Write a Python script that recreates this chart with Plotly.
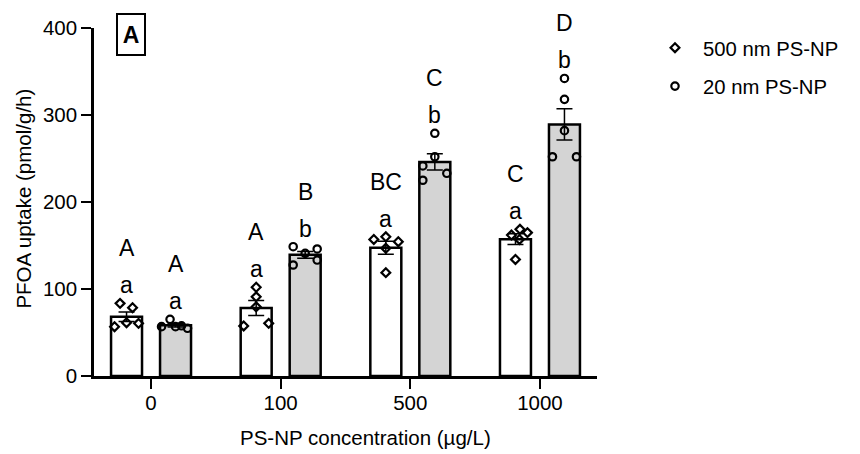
import numpy as np
import plotly.graph_objects as go

# ---- data ----
categories = ["0", "100", "500", "1000"]
series_names = ["500 nm PS-NP", "20 nm PS-NP"]

pts_500nm = [
    [83.5, 78.5, 56.7, 61.3, 60.5],
    [102.0, 91.0, 79.5, 57.5, 60.5],
    [157.0, 160.0, 154.4, 146.8, 118.8],
    [162.0, 168.6, 164.8, 157.0, 134.0],
]
pts_20nm = [
    [65.1, 56.7, 56.7, 57.7, 54.8],
    [148.6, 127.6, 141.0, 146.0, 133.3],
    [279.0, 252.0, 241.5, 225.0, 233.0],
    [342.0, 318.0, 282.0, 252.0, 252.0],
]
lower_500nm = ["a", "a", "a", "a"]
upper_500nm = ["A", "A", "BC", "C"]
lower_20nm = ["a", "b", "b", "b"]
upper_20nm = ["A", "B", "C", "D"]

# ---- style / layout constants ----
FONT = "Liberation Sans, Arial, sans-serif"
PX_PER_CAT = 129.7          # pixels per category unit
BAR_OFF = 0.189             # group offset (category units)
BAR_W = 0.239
# horizontal jitter of points (pixels), purely cosmetic spread
jit_500nm = [[-6.5, 6, -12, 0, 12], [0, 0, 0, -12.5, 12.5], [-12, 0, 12.5, 0, 0], [-4, 4.5, 12, 4, 0]]
jit_20nm = [[-5.5, -14, 0, 6, 12], [-12, -12, 0, 12, 12], [0, 0, -12, -12, 12], [0, 0, 0, -12, 12]]

fig = go.Figure()

series = [
    (series_names[0], pts_500nm, jit_500nm, -BAR_OFF, "white", "diamond-open", 6.8, lower_500nm, upper_500nm),
    (series_names[1], pts_20nm, jit_20nm, BAR_OFF, "#d4d4d4", "circle-open", 7.4, lower_20nm, upper_20nm),
]

annotations = []
for name, pts, jit, off, fill, sym, msize, low, up in series:
    xs = [i + off for i in range(len(categories))]
    means = [float(np.mean(p)) for p in pts]
    sems = [float(np.std(p, ddof=1) / np.sqrt(len(p))) for p in pts]
    fig.add_trace(go.Bar(
        x=xs, y=means, width=BAR_W,
        marker=dict(color=fill, line=dict(color="black", width=2.5)),
        error_y=dict(type="data", array=sems, visible=True, color="black", thickness=1.5, width=8),
        showlegend=False, hoverinfo="skip",
    ))
    px_, py_ = [], []
    for i, p in enumerate(pts):
        for v, j in zip(p, jit[i]):
            px_.append(xs[i] + j / PX_PER_CAT)
            py_.append(v)
    fig.add_trace(go.Scatter(
        x=px_, y=py_, mode="markers", name=name, legendgroup=name,
        marker=dict(symbol=sym, size=msize, color="black", line=dict(color="black", width=2.2)),
    ))
    for i, p in enumerate(pts):
        top = max(p)
        annotations.append(dict(x=xs[i], y=top, xref="x", yref="y", text=low[i], showarrow=False,
                                yanchor="middle", yshift=18, font=dict(family=FONT, size=23, color="black")))
        annotations.append(dict(x=xs[i], y=top, xref="x", yref="y", text=up[i], showarrow=False,
                                yanchor="middle", yshift=55, font=dict(family=FONT, size=23, color="black")))

# axis titles and panel label
annotations.append(dict(x=0.539, y=0, xref="paper", yref="paper", text="PS-NP concentration (µg/L)",
                        showarrow=False, yanchor="middle", yshift=-61,
                        font=dict(family=FONT, size=20.5, color="black")))
annotations.append(dict(x=-0.141, y=0.51, xref="paper", yref="paper", text="PFOA uptake (pmol/g/h)",
                        showarrow=False, textangle=-90, xanchor="center", yanchor="middle",
                        font=dict(family=FONT, size=20.5, color="black")))
annotations.append(dict(x=0.0736, y=0.982, xref="paper", yref="paper", text="<b>A</b>",
                        showarrow=False, xanchor="center", yanchor="middle",
                        width=22, height=35, borderpad=2, bordercolor="black", borderwidth=2,
                        font=dict(family=FONT, size=23, color="black")))

axis_common = dict(showline=True, linecolor="black", linewidth=2.5, ticks="outside", ticklen=10,
                   tickwidth=2, tickcolor="black", showgrid=False, zeroline=False,
                   tickfont=dict(family=FONT, size=20.5, color="black"))

fig.update_layout(
    width=860, height=454,
    margin=dict(l=94, r=263, t=28, b=78),
    paper_bgcolor="white", plot_bgcolor="white",
    barmode="overlay",
    xaxis=dict(range=[-0.44, 3.44], tickvals=list(range(len(categories))), ticktext=categories,
               ticklabelstandoff=-3, **axis_common),
    yaxis=dict(range=[0, 400], tickvals=[0, 100, 200, 300, 400], **axis_common),
    legend=dict(x=1.0994, y=1.0, xanchor="left", yanchor="top", tracegroupgap=9, itemwidth=46,
                font=dict(family=FONT, size=20.3, color="black"), bgcolor="rgba(0,0,0,0)"),
    annotations=annotations,
    font=dict(family=FONT, color="black"),
)

fig.write_html("out.html")
